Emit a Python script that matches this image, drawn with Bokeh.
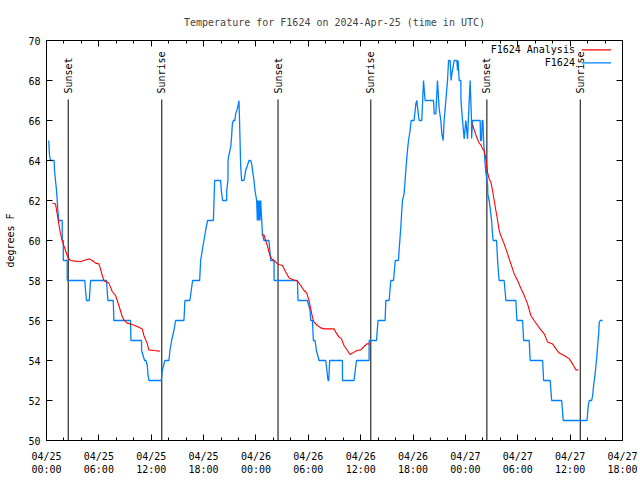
import numpy as np
from bokeh.plotting import figure
from bokeh.models import Range1d, FixedTicker, LinearAxis, Label
from bokeh.embed import file_html
from bokeh.resources import INLINE
from bokeh.core.properties import value

# ---- data (time = hours since 2024-04-25 00:00 UTC) ----
obs_hours = [0.26, 0.34, 0.46, 0.88, 0.92, 1.03, 1.15, 1.23, 1.30, 1.41,
             1.80, 1.81, 1.92, 1.93, 2.37, 2.38, 4.39, 4.47, 4.59, 4.90,
             4.97, 5.05, 6.88, 7.03, 7.65, 7.72, 9.63, 9.67, 10.89, 10.90,
             11.24, 11.39, 11.55, 11.62, 11.73, 13.15, 13.27, 13.57, 14.03, 14.14,
             14.34, 14.60, 14.79, 15.75, 15.86, 16.43, 16.74, 17.55, 17.66, 17.92,
             18.04, 18.23, 18.46, 19.12, 19.27, 19.95, 20.03, 20.18, 20.64, 20.65,
             20.79, 20.80, 20.91, 21.10, 21.18, 21.30, 21.41, 21.59, 21.67, 21.87,
             21.98, 22.05, 22.10, 22.17, 22.25, 22.36, 22.63, 22.82, 23.02, 23.20,
             23.39, 23.51, 23.66, 23.77, 23.89, 24.08, 24.16, 24.23, 24.31, 24.39,
             24.46, 24.54, 24.66, 24.74, 24.92, 25.49, 25.69, 26.07, 26.08, 28.75,
             28.82, 29.90, 30.20, 30.28, 30.47, 30.58, 30.77, 30.93, 31.23, 32.00,
             32.26, 32.34, 32.45, 33.91, 33.92, 35.24, 35.52, 36.96, 36.97, 37.81,
             37.99, 38.80, 38.88, 39.26, 39.45, 39.76, 39.97, 40.33, 40.40, 40.60,
             40.71, 40.79, 40.97, 41.09, 41.20, 41.36, 41.48, 41.66, 41.78, 42.12,
             42.24, 42.32, 42.43, 42.51, 42.70, 43.00, 43.20, 43.38, 44.35, 44.42,
             44.61, 44.80, 44.99, 45.18, 45.30, 45.45, 45.56, 45.76, 45.95, 46.07,
             46.25, 46.36, 46.45, 46.59, 46.71, 47.02, 47.10, 47.17, 47.28, 47.48,
             47.49, 47.67, 47.86, 48.05, 48.24, 48.54, 48.62, 48.70, 48.71, 48.82,
             49.69, 49.73, 49.85, 49.92, 50.00, 50.11, 50.26, 50.34, 50.54, 50.57,
             50.72, 50.84, 51.00, 51.11, 51.18, 51.57, 51.69, 51.80, 51.87, 52.44,
             52.64, 53.78, 53.90, 54.55, 54.67, 55.31, 55.42, 56.85, 56.96, 57.72,
             57.88, 59.03, 59.21, 61.93, 62.08, 62.19, 62.47, 62.58, 62.69, 62.84,
             62.96, 63.07, 63.15, 63.27, 63.34, 63.45, 63.72]
obs_temp = [65.0, 64.3, 64.0, 64.0, 63.5, 63.0, 62.5, 62.0, 61.5, 61.0,
            61.0, 60.0, 60.0, 59.0, 59.0, 58.0, 58.0, 57.5, 57.0, 57.0,
            57.5, 58.0, 58.0, 57.0, 57.0, 56.0, 56.0, 55.0, 55.0, 54.5,
            54.0, 54.0, 53.75, 53.33, 53.0, 53.0, 53.5, 54.0, 54.0, 54.5,
            55.0, 55.5, 56.0, 56.0, 57.0, 57.0, 58.0, 58.0, 59.0, 59.7,
            60.0, 60.5, 61.0, 61.0, 63.0, 63.0, 62.5, 62.0, 62.0, 62.5,
            63.0, 64.0, 64.3, 64.67, 65.0, 65.83, 66.0, 66.0, 66.33, 66.58,
            66.83, 67.0, 66.33, 65.1, 63.7, 63.0, 63.0, 63.5, 63.75, 64.0,
            64.0, 63.83, 63.33, 63.0, 62.5, 62.0, 61.0, 62.0, 61.0, 62.0,
            61.0, 62.0, 61.0, 60.33, 60.0, 60.0, 59.0, 59.0, 58.0, 58.0,
            57.0, 57.0, 56.5, 56.0, 56.0, 55.0, 55.0, 54.5, 54.0, 54.0,
            53.0, 53.0, 54.0, 54.0, 53.0, 53.0, 54.0, 54.0, 55.0, 55.0,
            56.0, 56.0, 57.0, 57.0, 58.0, 58.0, 59.0, 59.0, 59.5, 60.67,
            61.5, 62.0, 62.33, 63.0, 63.67, 64.5, 65.0, 65.5, 66.0, 66.0,
            66.5, 66.83, 67.0, 66.67, 66.0, 66.0, 68.0, 67.0, 67.0, 66.33,
            66.33, 68.0, 66.6, 66.0, 65.33, 65.0, 66.0, 67.0, 68.0, 69.0,
            69.0, 68.0, 68.33, 68.67, 69.0, 69.0, 68.5, 69.0, 68.0, 68.0,
            67.0, 66.0, 65.08, 66.0, 65.08, 68.0, 67.0, 66.0, 65.1, 66.0,
            66.0, 65.0, 65.0, 66.0, 66.0, 64.8, 63.8, 63.4, 62.8, 62.3,
            62.0, 61.6, 61.0, 60.3, 60.0, 60.0, 59.0, 58.3, 58.0, 58.0,
            57.0, 57.0, 56.0, 56.0, 55.0, 55.0, 54.0, 54.0, 53.0, 53.0,
            52.0, 52.0, 51.0, 51.0, 51.75, 52.0, 52.0, 52.25, 52.75, 53.25,
            53.75, 54.25, 54.75, 55.33, 55.92, 56.0, 56.0]

ana1_hours = [0.69, 1.03, 1.23, 1.41, 1.61, 1.80, 1.98, 2.18, 2.37, 2.56,
              2.75, 3.33, 3.90, 4.28, 4.67, 4.93, 5.24, 5.62, 6.00, 6.19,
              6.39, 6.57, 6.77, 7.14, 7.34, 7.53, 7.91, 8.11, 8.29, 8.68,
              8.86, 9.25, 9.83, 10.40, 10.97, 11.16, 11.55, 11.73, 12.31, 12.99]
ana1_temp = [61.88, 61.83, 61.33, 60.83, 60.33, 60.0, 59.75, 59.5, 59.25, 59.08,
             59.0, 58.97, 58.95, 59.0, 59.05, 59.08, 59.0, 58.87, 58.83, 58.58,
             58.25, 58.0, 57.95, 57.87, 57.67, 57.45, 57.25, 57.0, 56.75, 56.2,
             56.03, 55.87, 55.8, 55.7, 55.58, 55.25, 54.83, 54.53, 54.5, 54.47]
ana2_hours = [24.66, 24.92, 25.11, 25.31, 25.49, 25.69, 25.88, 26.07, 26.26, 26.46,
              26.64, 27.03, 27.41, 27.79, 28.36, 28.75, 29.13, 29.51, 29.82, 30.08,
              30.28, 30.47, 30.65, 31.04, 31.42, 31.80, 32.95, 33.14, 33.52, 33.80,
              34.09, 34.48, 34.78, 35.06, 35.55, 36.01, 36.39, 36.70, 36.96]
ana2_temp = [60.28, 60.28, 60.0, 59.75, 59.42, 59.17, 59.05, 59.0, 58.92, 58.83,
             58.8, 58.75, 58.42, 58.13, 58.03, 57.97, 57.75, 57.5, 57.37, 57.0,
             56.58, 56.17, 55.92, 55.75, 55.63, 55.58, 55.58, 55.42, 55.17, 55.08,
             54.75, 54.5, 54.3, 54.37, 54.5, 54.53, 54.7, 54.83, 54.83]
ana3_hours = [48.82, 49.00, 49.20, 49.39, 49.58, 49.77, 49.97, 50.15, 50.34, 50.54,
              50.72, 50.92, 51.11, 51.30, 51.49, 51.69, 51.87, 52.06, 52.44, 52.83,
              53.21, 53.59, 53.98, 54.36, 54.74, 55.12, 55.50, 55.88, 56.27, 56.65,
              57.03, 57.42, 57.99, 58.37, 58.75, 59.32, 59.90, 60.28, 60.67, 60.93]
ana3_temp = [65.8, 65.53, 65.28, 65.05, 64.87, 64.78, 64.58, 64.5, 64.1, 63.4,
             63.08, 62.92, 62.5, 62.0, 61.5, 61.0, 60.5, 60.25, 59.83, 59.33,
             58.83, 58.33, 58.0, 57.6, 57.25, 56.83, 56.25, 56.0, 55.75, 55.53,
             55.33, 54.92, 54.83, 54.58, 54.37, 54.25, 54.08, 53.83, 53.53, 53.53]

sunset_hours = [2.49, 26.53, 50.46]
sunrise_hours = [13.21, 37.16, 61.16]

xtick_hours = [0, 6, 12, 18, 24, 30, 36, 42, 48, 54, 60, 66]
xtick_labels = ["04/25\n00:00", "04/25\n06:00", "04/25\n12:00", "04/25\n18:00",
                "04/26\n00:00", "04/26\n06:00", "04/26\n12:00", "04/26\n18:00",
                "04/27\n00:00", "04/27\n06:00", "04/27\n12:00", "04/27\n18:00"]
xminor_hours = list(range(0, 67, 2))
ytick_values = [50, 52, 54, 56, 58, 60, 62, 64, 66, 68, 70]

FONT = "DejaVu Sans Mono"
FS = "10px"
BLUE = "#0080ff"
RED = "#ff0000"

p = figure(width=640, height=480, output_backend="svg", toolbar_location=None,
           x_range=Range1d(0, 66), y_range=Range1d(50, 70),
           min_border_left=46, min_border_right=18, min_border_top=40, min_border_bottom=40)
p.xgrid.visible = False
p.ygrid.visible = False
p.outline_line_color = "black"
p.outline_line_width = 1
p.background_fill_color = "white"
p.border_fill_color = "white"

p.title.text = "Temperature for F1624 on 2024-Apr-25 (time in UTC)"
p.title.align = "center"
p.title.text_font = FONT
p.title.text_font_size = FS
p.title.text_font_style = "normal"
p.title.standoff = 25

xt = FixedTicker(ticks=xtick_hours, minor_ticks=xminor_hours)
yt = FixedTicker(ticks=ytick_values, minor_ticks=[])

def style_axis(ax, ticker, show_labels):
    ax.ticker = ticker
    ax.axis_line_color = "black"
    ax.major_tick_in = 6
    ax.major_tick_out = 0
    ax.minor_tick_in = 3
    ax.minor_tick_out = 0
    ax.major_tick_line_color = "black"
    ax.minor_tick_line_color = "black"
    ax.major_label_text_font = FONT
    ax.major_label_text_font_size = FS if show_labels else "0px"
    ax.major_label_text_color = "black"

style_axis(p.xaxis[0], xt, True)
p.xaxis[0].major_label_overrides = {h: l for h, l in zip(xtick_hours, xtick_labels)}
p.xaxis[0].major_label_standoff = 10
style_axis(p.yaxis[0], yt, True)
p.yaxis[0].major_label_standoff = 6
p.yaxis[0].axis_label = "degrees F"
p.yaxis[0].axis_label_text_font = FONT
p.yaxis[0].axis_label_text_font_size = FS
p.yaxis[0].axis_label_text_font_style = "normal"
p.yaxis[0].axis_label_text_color = "black"
p.yaxis[0].axis_label_standoff = 9

top_ax = LinearAxis(major_label_standoff=0)
style_axis(top_ax, xt, False)
top_ax.major_label_overrides = {h: "" for h in xtick_hours}
p.add_layout(top_ax, "above")
right_ax = LinearAxis(major_label_standoff=0)
style_axis(right_ax, yt, False)
right_ax.major_label_overrides = {v: "" for v in ytick_values}
p.add_layout(right_ax, "right")

# sunrise / sunset markers
ev_hours = sunset_hours + sunrise_hours
ev_names = ["Sunset"] * len(sunset_hours) + ["Sunrise"] * len(sunrise_hours)
p.segment(x0=ev_hours, y0=[50] * len(ev_hours), x1=ev_hours, y1=[67.05] * len(ev_hours),
          line_color="black", line_width=1)
p.text(x=ev_hours, y=[67.35] * len(ev_hours), text=ev_names, angle=np.pi / 2,
       text_align="left", text_baseline="middle", text_font=value(FONT),
       text_font_size=FS, text_color="black")

# series
p.line(obs_hours, obs_temp, line_color=BLUE, line_width=1.3)
for hh, tt in [(ana1_hours, ana1_temp), (ana2_hours, ana2_temp), (ana3_hours, ana3_temp)]:
    p.line(hh, tt, line_color=RED, line_width=1.1)

# legend (gnuplot style: label right-aligned, sample to the right)
p.add_layout(Label(x=60.55, y=69.53, text="F1624 Analysis", text_align="right",
                   text_baseline="middle", text_font=FONT, text_font_size=FS, text_color="black"))
p.add_layout(Label(x=60.55, y=68.88, text="F1624", text_align="right",
                   text_baseline="middle", text_font=FONT, text_font_size=FS, text_color="black"))
p.segment(x0=[61.32, 61.32], y0=[69.53, 68.88], x1=[64.68, 64.68], y1=[69.53, 68.88],
          line_color=[RED, BLUE], line_width=1.3)

open("out.html", "w").write(file_html(p, INLINE))
